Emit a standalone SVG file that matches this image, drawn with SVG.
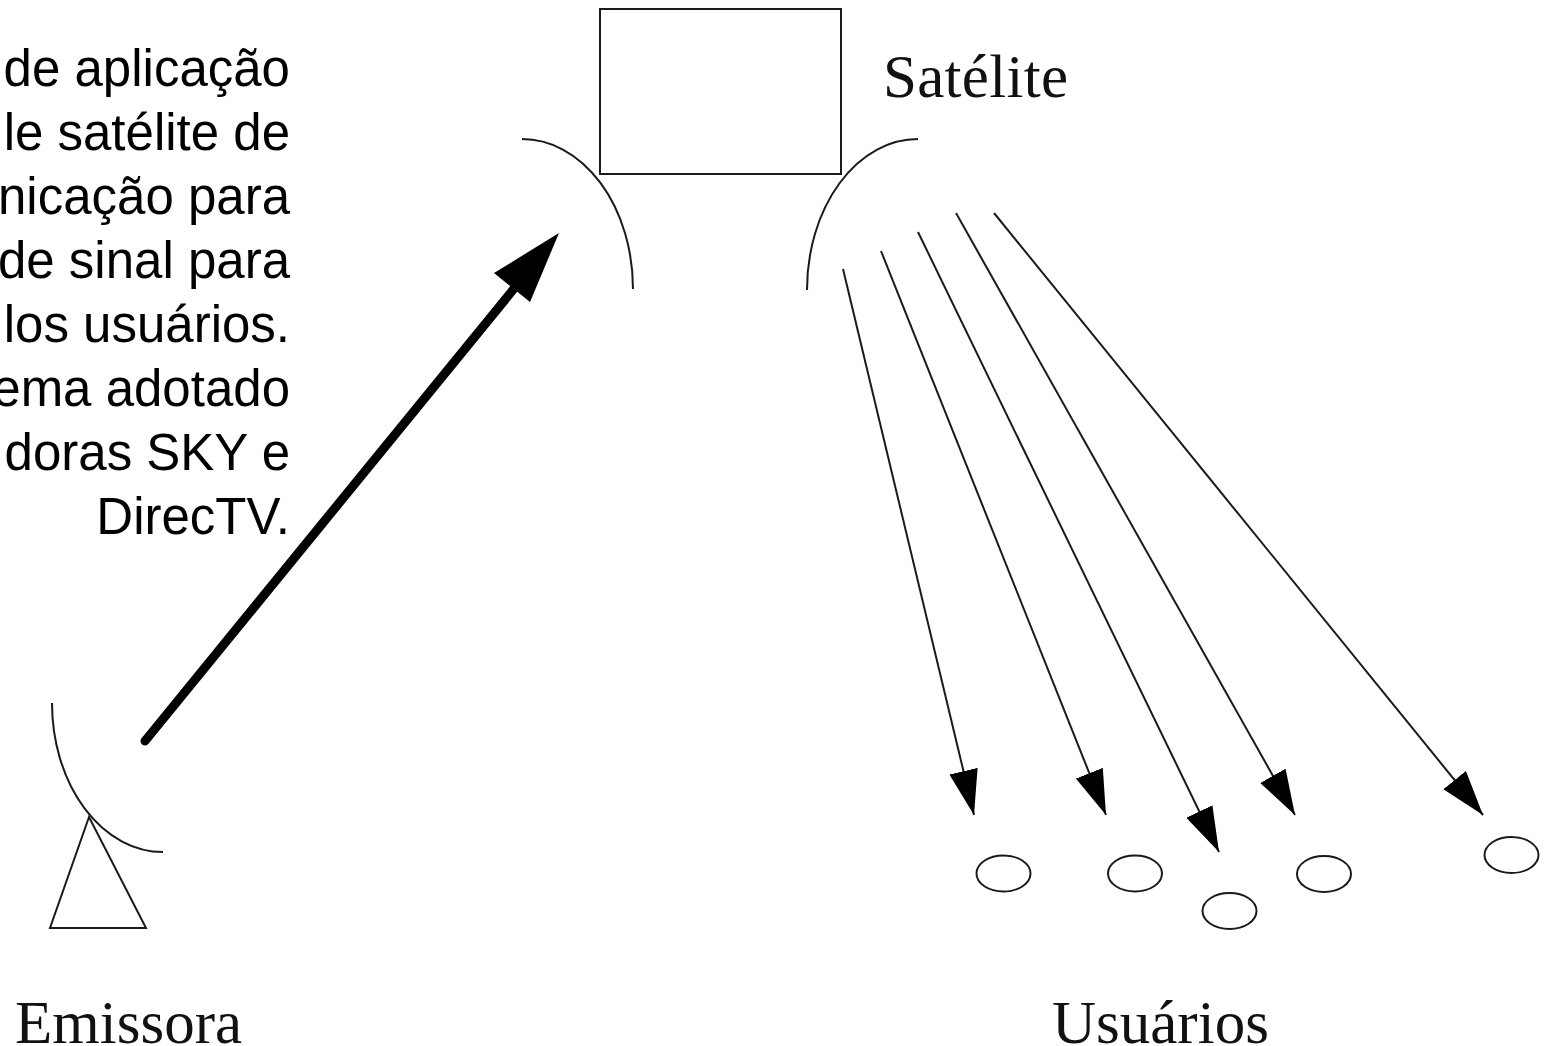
<svg xmlns="http://www.w3.org/2000/svg" width="1546" height="1046" viewBox="0 0 1546 1046">
<style>
.desc{font-family:"Liberation Sans",Arial,sans-serif;font-size:51px;fill:#000;text-anchor:end}
.lbl{font-family:"Liberation Serif","Times New Roman",serif;font-size:61px;fill:#111}
.thin{stroke:#1a1a1a;stroke-width:2;fill:none}
.beam{stroke:#1a1a1a;stroke-width:2;fill:none;marker-end:url(#ah)}
</style>
<defs>
<marker id="ah" markerUnits="userSpaceOnUse" markerWidth="46" markerHeight="30" refX="45" refY="14.5" orient="auto">
<path d="M0,0 L45,14.5 L0,29 z" fill="#000"/>
</marker>
</defs>
<rect width="1546" height="1046" fill="#fff"/>
<g id="description">
<text class="desc" x="290" y="86">de aplicação</text>
<text class="desc" x="290" y="150">le satélite de</text>
<text class="desc" x="290" y="214">nicação para</text>
<text class="desc" x="290" y="278">de sinal para</text>
<text class="desc" x="290" y="342">los usuários.</text>
<text class="desc" x="290" y="406">ema adotado</text>
<text class="desc" x="290" y="470">doras SKY e</text>
<text class="desc" x="290" y="534">DirecTV.</text>
</g>
<g id="satelite">
<rect x="600" y="9" width="241" height="165" class="thin"/>
<path class="thin" d="M522,139 A111,150 0 0 1 633,289"/>
<path class="thin" d="M918,139 A111,151 0 0 0 807,290"/>
<text class="lbl" x="883" y="97" textLength="185">Satélite</text>
</g>
<g id="emissora">
<path class="thin" d="M52,703 A111,149 0 0 0 163,852"/>
<path class="thin" d="M89,817 L50,928 L146,928 Z"/>
<text class="lbl" x="15" y="1043">Emissora</text>
</g>
<g id="usuarios">
<ellipse class="thin" cx="1003.5" cy="873.5" rx="27" ry="18"/>
<ellipse class="thin" cx="1135" cy="873.5" rx="27" ry="18"/>
<ellipse class="thin" cx="1229.5" cy="911" rx="27" ry="18"/>
<ellipse class="thin" cx="1324" cy="874" rx="27" ry="18"/>
<ellipse class="thin" cx="1511.5" cy="855" rx="27" ry="18"/>
<text class="lbl" x="1052" y="1043">Usuários</text>
</g>
<g id="connectors">
<line x1="145" y1="741" x2="530" y2="269" stroke="#000" stroke-width="9" stroke-linecap="round"/>
<path d="M559,233 L530,302 L494,273 Z" fill="#000"/>
<line class="beam" x1="843" y1="269" x2="974" y2="815"/>
<line class="beam" x1="881" y1="251" x2="1106" y2="815"/>
<line class="beam" x1="918" y1="232" x2="1219" y2="852"/>
<line class="beam" x1="956" y1="213" x2="1295" y2="815"/>
<line class="beam" x1="994" y1="213" x2="1483" y2="815"/>
</g>
</svg>
